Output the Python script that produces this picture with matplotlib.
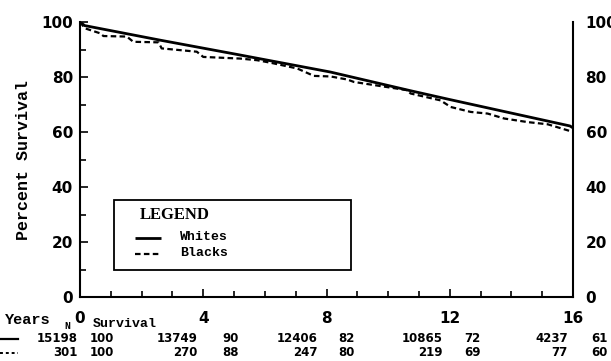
import matplotlib
matplotlib.use("Agg")
import matplotlib.pyplot as plt
from matplotlib.lines import Line2D
from matplotlib.patches import Rectangle
from matplotlib.ticker import MultipleLocator

# ---- data ----
whites_t = [0, 0.15, 2.6, 5.1, 8.13, 10.73, 12.0, 15.9, 16.0]
whites_s = [100, 98.7, 93.4, 88.2, 81.8, 75.0, 71.8, 62.2, 61.5]

blacks_t = [0, 0.16, 0.65, 0.76, 1.52, 1.73, 2.55, 2.65, 3.79, 4.0, 5.2, 5.75,
            6.18, 7.05, 7.59, 8.13, 8.67, 8.89, 10.62, 10.73, 11.7, 12.03,
            12.68, 13.23, 13.77, 14.53, 15.18, 15.83, 16.0]
blacks_s = [100, 97.7, 95.9, 94.9, 94.7, 92.8, 92.6, 90.4, 89.2, 87.3, 86.7, 86.1,
            85.2, 83.1, 80.4, 80.2, 79.1, 78.2, 75.2, 74.0, 71.5, 69.1,
            67.3, 66.7, 64.9, 63.6, 62.8, 60.6, 60.0]

table_years = [0, 4, 8, 12, 16]
whites_n = [15198, 13749, 12406, 10865, 4237]
whites_surv = [100, 90, 82, 72, 61]
blacks_n = [301, 270, 247, 219, 77]
blacks_surv = [100, 88, 80, 69, 60]

legend_labels = ["Whites", "Blacks"]

# ---- layout ----
W, H = 611, 361
WORD = "Liberation Mono"
DIG = "DejaVu Sans"
WHITE_STYLE = dict(color="black", lw=2.0, solid_capstyle="butt")
BLACK_STYLE = dict(color="black", lw=1.6, linestyle=(0, (2.5, 1.5)))

fig = plt.figure(figsize=(W / 100, H / 100), dpi=100)
ax = fig.add_axes([80 / W, 1 - 297 / H, 493 / W, 275 / H])

ax.plot(whites_t, whites_s, **WHITE_STYLE)
ax.plot(blacks_t, blacks_s, **BLACK_STYLE)

ax.set_xlim(0, 16)
ax.set_ylim(0, 100)
ax.spines["top"].set_visible(False)
for s in ("left", "right", "bottom"):
    ax.spines[s].set_linewidth(1.5)

ax.xaxis.set_major_locator(MultipleLocator(4))
ax.xaxis.set_minor_locator(MultipleLocator(1))
ax.yaxis.set_major_locator(MultipleLocator(20))
ax.yaxis.set_minor_locator(MultipleLocator(10))
ax.tick_params(which="both", direction="in", top=False, right=True,
               left=True, bottom=True, width=1.2)
ax.tick_params(which="major", length=6)
ax.tick_params(which="minor", length=4)
ax.tick_params(axis="x", pad=10)
ax.tick_params(axis="y", pad=5)

ax2 = ax.twinx()
ax2.set_ylim(0, 100)
ax2.yaxis.set_major_locator(MultipleLocator(20))
ax2.yaxis.set_minor_locator(MultipleLocator(10))
ax2.tick_params(which="both", direction="in", right=True, length=0, pad=9)
for s in ax2.spines.values():
    s.set_visible(False)

for lab in ax.get_xticklabels() + ax.get_yticklabels() + ax2.get_yticklabels():
    lab.set_fontfamily(DIG)
    lab.set_fontweight("bold")
    lab.set_fontsize(11)

ax.set_ylabel("Percent Survival", fontfamily=WORD, fontweight="bold", fontsize=12)
ax.yaxis.set_label_coords(-0.10, 0.5)

# ---- legend box ----
def axx(px):
    return (px - 80) / 493

def axy(py):
    return (297 - py) / 275

ax.add_patch(Rectangle((axx(114), axy(270)), axx(351) - axx(114), axy(200) - axy(270),
                       transform=ax.transAxes, fill=False, edgecolor="black",
                       lw=1.3, zorder=5))
ax.text(axx(140), axy(215), "LEGEND", transform=ax.transAxes, fontfamily="Liberation Serif",
        fontweight="bold", fontsize=12, ha="left", va="center")
for lab, ly, sty in zip(legend_labels, [237, 253], [WHITE_STYLE, BLACK_STYLE]):
    ax.add_line(Line2D([axx(135), axx(161)], [axy(ly + 1), axy(ly + 1)],
                       transform=ax.transAxes, **sty))
    ax.text(axx(180), axy(ly), lab, transform=ax.transAxes, fontfamily=WORD,
            fontweight="bold", fontsize=9.5, ha="left", va="center")

# ---- table below the axis ----
def fx(px):
    return px / W

def fy(py):
    return 1 - py / H

fig.text(fx(5), fy(320), "Years", fontfamily=WORD, fontweight="bold",
         fontsize=11, ha="left", va="center")
fig.text(fx(64), fy(326), "N", fontfamily=WORD, fontweight="bold",
         fontsize=7, ha="left", va="center")
fig.text(fx(93), fy(324), "Survival", fontfamily=WORD, fontweight="bold",
         fontsize=9.5, ha="left", va="center")

n_right = [78, 198, 318, 443, 568]
s_left = [90, 222, 338, 464, 591]
row_y = [339, 353]
for ry, ns, ss in zip(row_y, [whites_n, blacks_n], [whites_surv, blacks_surv]):
    for i in range(len(table_years)):
        fig.text(fx(n_right[i]), fy(ry), str(ns[i]), fontfamily=DIG,
                 fontweight="bold", fontsize=8.5, ha="right", va="center")
        fig.text(fx(s_left[i]), fy(ry), str(ss[i]), fontfamily=DIG,
                 fontweight="bold", fontsize=8.5, ha="left", va="center")

fig.add_artist(Line2D([fx(0), fx(18)], [fy(339), fy(339)], color="black",
                      lw=1.6, transform=fig.transFigure))
fig.add_artist(Line2D([fx(0), fx(18)], [fy(353), fy(353)], color="black",
                      lw=1.4, linestyle=(0, (1.5, 1.5)), transform=fig.transFigure))

fig.savefig("out.png", dpi=100)
